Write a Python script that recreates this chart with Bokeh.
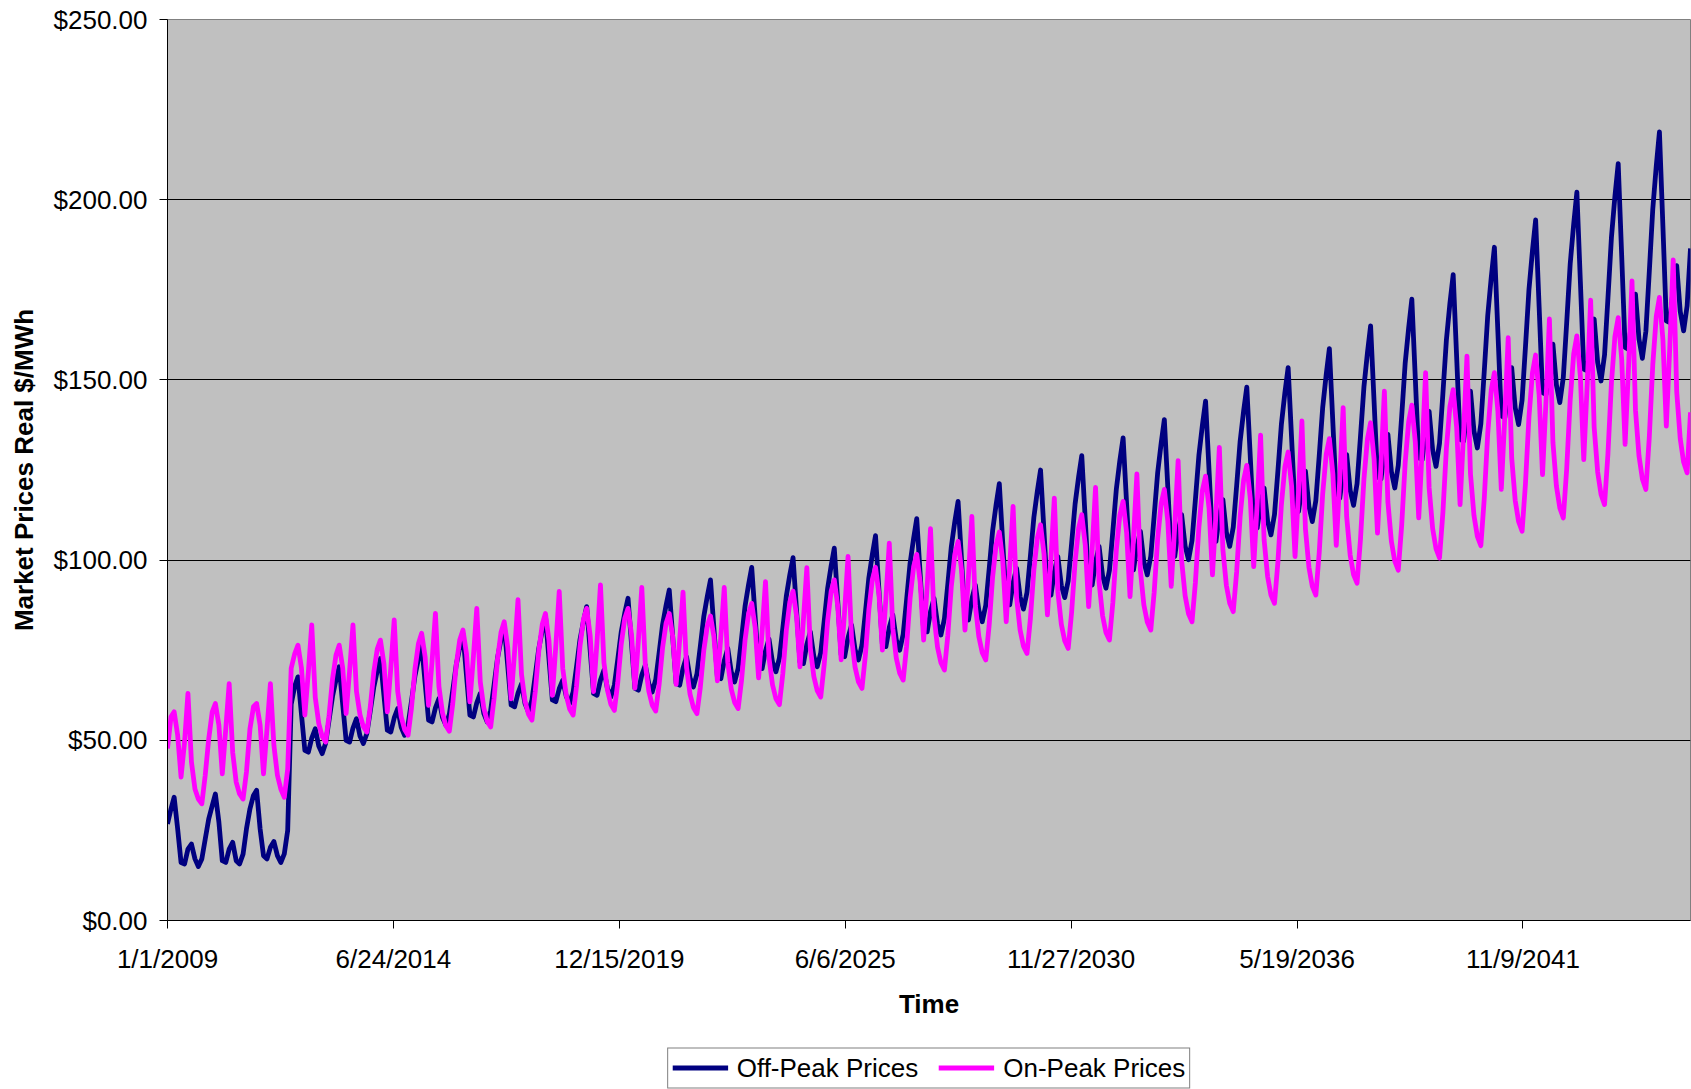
from datetime import datetime

import pandas as pd
from bokeh.embed import file_html
from bokeh.layouts import column
from bokeh.models import (ColumnDataSource, FixedTicker, Legend, LegendItem,
                          NumeralTickFormatter, Range1d)
from bokeh.plotting import figure
from bokeh.resources import INLINE

# Date-axis tick labels (every 2000 days from the first month)
tick_labels = ["1/1/2009", "6/24/2014", "12/15/2019", "6/6/2025",
               "11/27/2030", "5/19/2036", "11/9/2041"]
price_ticks = [0, 50, 100, 150, 200, 250]
series_names = ["Off-Peak Prices", "On-Peak Prices"]

# Monthly market prices, real $/MWh, Jan 2009 - Dec 2045 (one row per year)
off_peak = [
    26.8, 31.0, 34.2, 25.4, 16.1, 15.7, 19.8, 21.2, 17.1, 15.0, 17.1, 22.6,
    28.2, 31.9, 35.1, 27.3, 16.6, 16.1, 19.8, 21.7, 16.6, 15.7, 18.4, 25.4,
    31.0, 34.7, 36.1, 25.4, 18.0, 17.1, 20.3, 21.9, 18.0, 16.1, 18.5, 25.0,
    60.0, 65.0, 67.6, 57.2, 47.2, 46.7, 50.6, 53.2, 48.4, 46.3, 49.2, 55.5,
    62.2, 66.8, 70.4, 60.0, 50.0, 49.5, 53.4, 56.0, 51.2, 49.1, 51.9, 58.1,
    64.7, 69.2, 72.7, 62.5, 52.8, 52.3, 56.2, 58.8, 53.6, 51.4, 54.4, 60.9,
    67.9, 72.7, 76.4, 65.8, 55.6, 55.1, 59.0, 61.6, 56.4, 54.2, 57.2, 63.8,
    70.9, 75.7, 79.5, 68.0, 57.0, 56.5, 60.4, 63.0, 57.5, 55.1, 58.3, 65.3,
    72.9, 78.0, 82.0, 70.7, 59.8, 59.3, 63.1, 65.7, 60.2, 57.9, 61.1, 68.0,
    75.5, 80.5, 84.5, 72.6, 61.2, 60.7, 64.3, 66.7, 62.2, 60.2, 63.4, 70.4,
    78.0, 83.1, 87.1, 74.8, 63.0, 62.5, 66.7, 69.5, 64.3, 62.0, 65.3, 72.4,
    80.1, 85.3, 89.4, 76.7, 64.4, 63.9, 68.1, 70.9, 65.7, 63.4, 66.8, 74.2,
    82.1, 87.5, 91.7, 78.5, 65.8, 65.3, 70.0, 73.2, 67.3, 64.8, 68.4, 76.1,
    84.4, 90.0, 94.5, 80.8, 67.6, 67.1, 72.1, 75.5, 69.0, 66.2, 70.0, 78.3,
    87.2, 93.2, 98.0, 84.0, 70.4, 69.9, 74.8, 78.1, 71.7, 69.0, 72.8, 81.0,
    89.9, 95.9, 100.7, 86.0, 71.8, 71.3, 76.6, 80.1, 73.3, 70.4, 74.3, 82.9,
    92.1, 98.4, 103.3, 88.3, 73.7, 73.2, 78.5, 82.0, 75.2, 72.3, 76.4, 85.4,
    95.1, 101.6, 106.8, 91.4, 76.5, 76.0, 81.3, 84.8, 77.9, 75.0, 79.4, 88.9,
    99.1, 106.0, 111.5, 95.8, 80.6, 80.1, 85.7, 89.4, 82.3, 79.2, 83.7, 93.3,
    103.7, 110.7, 116.3, 99.9, 83.9, 83.4, 89.2, 93.1, 86.0, 82.9, 87.5, 97.5,
    108.2, 115.5, 121.2, 104.4, 88.1, 87.6, 93.7, 97.7, 89.8, 86.4, 91.0, 101.1,
    111.9, 119.2, 125.0, 107.7, 90.8, 90.3, 96.7, 101.0, 93.0, 89.6, 94.3, 104.6,
    115.6, 123.1, 129.0, 111.1, 93.6, 93.1, 99.5, 103.8, 95.7, 92.2, 97.2, 108.0,
    119.7, 127.6, 133.9, 115.6, 97.8, 97.3, 103.7, 108.0, 99.5, 95.9, 101.1, 112.3,
    124.3, 132.5, 139.0, 120.0, 101.5, 101.0, 108.0, 112.6, 103.9, 100.1, 105.4, 116.8,
    129.1, 137.5, 144.1, 124.7, 105.7, 105.2, 112.2, 116.8, 107.7, 103.8, 109.1, 120.6,
    133.0, 141.4, 148.0, 128.5, 109.4, 108.9, 115.6, 120.0, 110.9, 107.0, 112.6, 124.6,
    137.6, 146.4, 153.4, 133.5, 114.0, 113.5, 120.2, 124.7, 114.9, 110.7, 116.5, 128.9,
    142.4, 151.5, 158.7, 138.0, 117.7, 117.2, 124.5, 129.3, 119.4, 115.2, 121.2, 134.1,
    148.1, 157.5, 165.0, 143.8, 123.0, 122.5, 129.9, 134.9, 124.5, 120.0, 126.3, 139.9,
    154.6, 164.5, 172.4, 150.2, 128.4, 127.9, 135.9, 141.3, 130.6, 126.0, 132.4, 146.2,
    161.1, 171.2, 179.2, 156.1, 133.5, 133.0, 141.3, 146.9, 135.8, 131.1, 137.8, 152.3,
    167.9, 178.4, 186.8, 163.2, 140.0, 139.5, 147.8, 153.4, 142.3, 137.6, 144.4, 159.2,
    175.1, 185.9, 194.4, 170.2, 146.5, 146.0, 154.3, 159.9, 148.6, 143.7, 150.7, 165.9,
    182.2, 193.3, 202.1, 177.3, 153.0, 152.5, 161.1, 166.9, 154.9, 149.7, 156.9, 172.6,
    189.5, 201.0, 210.0, 184.3, 159.0, 158.5, 167.7, 173.8, 161.3, 156.0, 163.5, 179.9,
    197.4, 209.4, 218.8, 192.4, 166.4, 165.9, 175.4, 181.7, 169.0, 163.6, 170.5, 186.5,
]

on_peak = [
    47.7, 56.5, 57.9, 51.4, 39.8, 49.5, 63.0, 44.0, 36.5, 33.7, 32.4, 40.3,
    50.4, 57.9, 60.2, 54.2, 40.7, 53.2, 65.7, 46.7, 38.4, 35.1, 33.7, 41.2,
    53.2, 59.3, 60.2, 54.2, 40.7, 53.2, 65.7, 48.6, 40.3, 36.5, 34.2, 42.0,
    70.0, 74.0, 76.4, 70.0, 57.0, 69.0, 82.0, 61.9, 54.7, 51.1, 49.5, 56.8,
    67.0, 73.7, 76.4, 70.1, 57.4, 69.2, 82.0, 63.6, 57.1, 53.8, 52.3, 59.2,
    68.9, 75.3, 77.8, 71.2, 57.9, 70.1, 83.4, 63.6, 56.5, 53.0, 51.4, 59.0,
    69.8, 76.9, 79.7, 73.1, 59.7, 71.9, 85.2, 64.9, 57.7, 54.1, 52.5, 60.1,
    70.8, 77.8, 80.6, 74.0, 60.7, 73.1, 86.6, 66.2, 59.0, 55.3, 53.7, 61.6,
    72.7, 80.0, 82.9, 75.8, 61.5, 74.7, 89.0, 68.3, 60.9, 57.3, 55.6, 63.6,
    74.8, 82.2, 85.2, 77.7, 62.5, 76.3, 91.3, 70.0, 62.5, 58.7, 57.0, 65.0,
    76.2, 83.6, 86.6, 79.0, 63.5, 77.7, 93.1, 71.5, 63.9, 60.0, 58.3, 66.0,
    76.7, 83.8, 86.6, 79.3, 64.5, 77.9, 92.4, 71.1, 63.6, 59.8, 58.1, 65.4,
    75.7, 82.5, 85.2, 78.7, 65.5, 77.8, 91.1, 70.2, 62.8, 59.1, 57.4, 64.7,
    75.0, 81.8, 84.5, 78.6, 66.5, 78.9, 92.4, 71.6, 64.2, 60.5, 58.8, 66.7,
    77.8, 85.1, 88.0, 81.2, 67.3, 80.1, 94.0, 72.9, 65.4, 61.6, 59.9, 68.4,
    80.4, 88.3, 91.4, 84.5, 70.4, 83.6, 97.9, 75.6, 67.7, 63.8, 62.0, 70.8,
    83.1, 91.3, 94.5, 87.2, 72.3, 86.1, 101.0, 78.3, 70.3, 66.2, 64.4, 73.5,
    86.2, 94.6, 98.0, 90.4, 75.0, 89.3, 104.7, 81.1, 72.8, 68.6, 66.7, 76.1,
    89.4, 98.1, 101.6, 93.7, 77.8, 92.6, 108.7, 84.4, 75.8, 71.5, 69.5, 79.1,
    92.7, 101.6, 105.2, 97.1, 80.6, 95.7, 112.1, 87.4, 78.7, 74.3, 72.3, 81.9,
    95.4, 104.3, 107.8, 99.6, 82.9, 98.3, 114.9, 89.6, 80.6, 76.1, 74.1, 83.7,
    97.3, 106.2, 109.8, 101.6, 84.8, 100.4, 117.2, 91.3, 82.2, 77.6, 75.5, 85.5,
    99.6, 108.9, 112.6, 104.2, 87.1, 103.0, 120.2, 93.9, 84.6, 79.9, 77.8, 88.2,
    102.8, 112.5, 116.3, 107.6, 89.9, 106.2, 123.9, 97.1, 87.5, 82.8, 80.6, 91.1,
    106.0, 115.7, 119.6, 110.7, 92.7, 109.5, 127.6, 99.9, 90.1, 85.1, 82.9, 93.8,
    109.2, 119.3, 123.3, 114.3, 95.9, 112.9, 131.3, 103.0, 93.0, 88.0, 85.7, 96.7,
    112.1, 122.2, 126.3, 117.0, 98.2, 115.7, 134.7, 105.7, 95.5, 90.3, 88.0, 99.3,
    115.3, 125.8, 130.0, 120.4, 101.0, 119.0, 138.6, 108.7, 98.0, 92.7, 90.3, 102.0,
    118.5, 129.4, 133.7, 123.9, 104.1, 122.4, 142.3, 112.1, 101.4, 96.0, 93.6, 105.6,
    122.5, 133.6, 138.1, 128.0, 107.5, 126.4, 146.9, 116.1, 105.2, 99.7, 97.2, 109.6,
    127.0, 138.4, 143.0, 132.7, 111.7, 131.0, 152.0, 120.1, 108.8, 103.2, 100.6, 113.2,
    131.0, 142.6, 147.3, 136.8, 115.4, 135.2, 156.6, 124.0, 112.4, 106.6, 104.0, 117.0,
    135.2, 147.2, 152.0, 141.3, 119.6, 139.8, 161.7, 128.4, 116.6, 110.7, 108.0, 121.2,
    139.8, 152.0, 156.9, 145.9, 123.7, 144.4, 166.9, 132.7, 120.5, 114.5, 111.7, 125.3,
    144.5, 157.2, 162.2, 150.9, 127.9, 149.1, 172.1, 136.9, 124.5, 118.2, 115.4, 129.4,
    149.1, 162.1, 167.3, 155.7, 132.1, 153.9, 177.5, 141.6, 128.9, 122.5, 119.6, 134.0,
    154.2, 167.6, 172.9, 161.1, 137.2, 159.3, 183.3, 146.7, 133.7, 127.2, 124.2, 141.0,
]

COLORS = ["#000080", "#FF00FF"]
SERIES_COLS = ["off", "on"]
LINE_W = 4.8
FONT = "Liberation Sans"

months = pd.date_range("2009-01-01", periods=len(off_peak), freq="MS")
source = ColumnDataSource(data=dict(month=months, off=off_peak, on=on_peak))

# ---- main chart -----------------------------------------------------------
p = figure(width=1691, height=1040, x_axis_type="datetime",
           x_range=Range1d(months[0], months[-1]), y_range=Range1d(0, 250),
           output_backend="svg", toolbar_location=None,
           min_border_left=167, min_border_right=1,
           min_border_top=19, min_border_bottom=120)

p.background_fill_color = "#C0C0C0"
p.border_fill_color = "white"
p.outline_line_color = "#808080"
p.outline_line_width = 1

p.xgrid.visible = False
p.ygrid.grid_line_color = "black"
p.ygrid.grid_line_width = 1

# x axis: fixed date ticks labelled m/d/yyyy
tick_ms = [datetime.strptime(t, "%m/%d/%Y").timestamp() * 1000 for t in tick_labels]
p.xaxis.ticker = FixedTicker(ticks=tick_ms, minor_ticks=[])
p.xaxis.major_label_overrides = {ms: lab for ms, lab in zip(tick_ms, tick_labels)}
p.xaxis.axis_label = "Time"
p.xaxis.major_label_standoff = 15
p.xaxis.axis_label_standoff = 12

# y axis: dollar prices
p.yaxis.ticker = FixedTicker(ticks=price_ticks, minor_ticks=[])
p.yaxis.formatter = NumeralTickFormatter(format="$0.00")
p.yaxis.axis_label = "Market Prices Real $/MWh"
p.yaxis.major_label_standoff = 12
p.yaxis.axis_label_standoff = 12

for ax in (p.xaxis, p.yaxis):
    ax.axis_line_color = "black"
    ax.axis_line_width = 1
    ax.major_tick_line_color = "black"
    ax.major_tick_out = 8
    ax.major_tick_in = 0
    ax.minor_tick_out = 0
    ax.minor_tick_in = 0
    ax.major_label_text_font = FONT
    ax.major_label_text_font_size = "26px"
    ax.major_label_text_color = "black"
    ax.axis_label_text_font = FONT
    ax.axis_label_text_font_size = "26px"
    ax.axis_label_text_font_style = "bold"
    ax.axis_label_text_color = "black"

for col, color in zip(SERIES_COLS, COLORS):
    p.line("month", col, source=source, line_color=color,
           line_width=LINE_W, line_join="round")

# ---- legend strip under the chart ------------------------------------------
# The strip re-uses the same two series; its y range lies below every price,
# so only the legend box itself shows.
key = figure(width=1691, height=49, x_range=p.x_range, y_range=Range1d(-2, -1),
             output_backend="svg", toolbar_location=None,
             x_axis_location=None, y_axis_location=None,
             min_border_left=167, min_border_right=1,
             min_border_top=6, min_border_bottom=0)
key.outline_line_color = None
key.background_fill_color = "white"
key.border_fill_color = "white"
key.xgrid.visible = False
key.ygrid.visible = False

items = []
for name, col, color in zip(series_names, SERIES_COLS, COLORS):
    r = key.line("month", col, source=source, line_color=color, line_width=LINE_W)
    items.append(LegendItem(label=name, renderers=[r]))

legend = Legend(
    items=items,
    orientation="horizontal",
    location="center",
    label_text_font=FONT,
    label_text_font_size="26px",
    label_text_color="black",
    glyph_width=56,
    glyph_height=20,
    label_standoff=9,
    spacing=20,
    padding=4,
    margin=0,
    border_line_color="black",
    border_line_width=1,
    background_fill_color="white",
    background_fill_alpha=1.0,
)
key.add_layout(legend, "center")

layout = column(p, key, spacing=0)
open("out.html", "w").write(file_html(layout, INLINE))
